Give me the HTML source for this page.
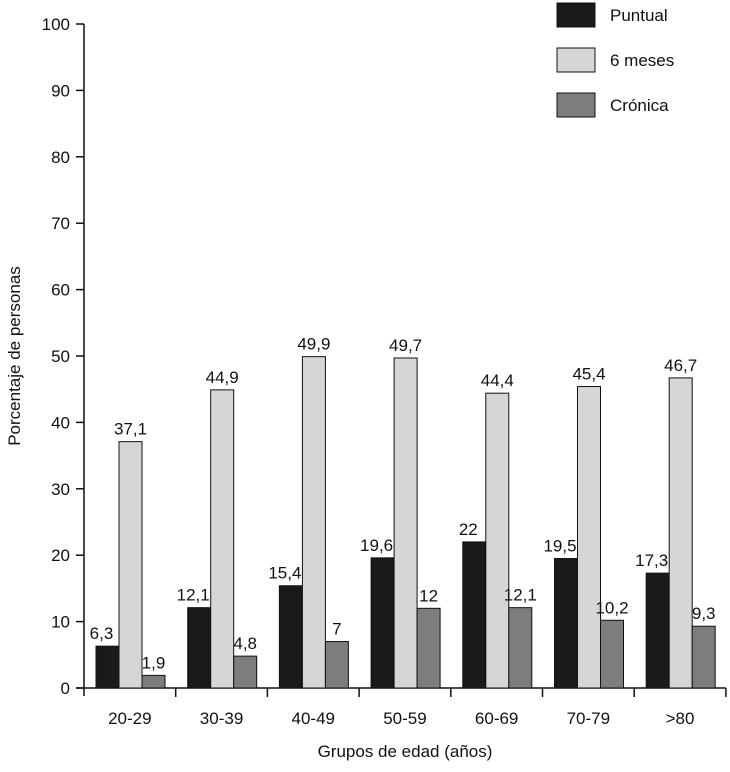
<!DOCTYPE html>
<html><head><meta charset="utf-8"><style>
body{margin:0;background:#fff}
svg text{font-family:"Liberation Sans",sans-serif;fill:#111}
</style></head><body>
<svg id="c" width="730" height="767" xmlns="http://www.w3.org/2000/svg"></svg>
<script>
const categories=["20-29","30-39","40-49","50-59","60-69","70-79",">80"];
const puntual=[6.3,12.1,15.4,19.6,22,19.5,17.3];
const seisMeses=[37.1,44.9,49.9,49.7,44.4,45.4,46.7];
const cronica=[1.9,4.8,7,12,12.1,10.2,9.3];
const puntualLabels=["6,3","12,1","15,4","19,6","22","19,5","17,3"];
const seisLabels=["37,1","44,9","49,9","49,7","44,4","45,4","46,7"];
const cronicaLabels=["1,9","4,8","7","12","12,1","10,2","9,3"];
const yTicks=[0,10,20,30,40,50,60,70,80,90,100];
const svg=document.getElementById('c');const NS="http://www.w3.org/2000/svg";
const X0=84,Y0=688,Y100=24,GW=91.7,BW=23,OFF=12,FS=17;
const y=v=>Y0-(Y0-Y100)*v/100;
const gx=i=>X0+GW*i;
function mk(t,a,txt){const e=document.createElementNS(NS,t);for(const k in a)e.setAttribute(k,a[k]);if(txt!==undefined)e.textContent=txt;svg.appendChild(e);return e;}
let e;
e=mk('line',{x1:X0,y1:Y100,x2:X0,y2:Y0+8,stroke:'#111','stroke-width':1.5});

e=mk('line',{x1:X0-8,y1:Y0,x2:gx(7),y2:Y0,stroke:'#111','stroke-width':1.5});

yTicks.forEach(t=>{
 e=mk('line',{x1:X0-8,y1:y(t),x2:X0,y2:y(t),stroke:'#111','stroke-width':1.5});
 
 e=mk('text',{x:X0-14,y:y(t)+6,'text-anchor':'end','font-size':FS},t);
 
});
for(let i=1;i<=7;i++){e=mk('line',{x1:gx(i),y1:Y0,x2:gx(i),y2:Y0+9,stroke:'#111','stroke-width':1.5});
 }
const series=[[puntual,puntualLabels,'#1a1a1a','puntual'],[seisMeses,seisLabels,'#d6d6d6','6-meses'],[cronica,cronicaLabels,'#7d7d7d','cronica']];
categories.forEach((c,i)=>{
 series.forEach((s,j)=>{
  const v=s[0][i],bx=gx(i)+OFF+j*BW;
  e=mk('rect',{x:bx,y:y(v),width:BW,height:Y0-y(v),fill:s[2],stroke:'#111','stroke-width':1});
  
  e=mk('text',{x:bx+BW/2-(j==0?6:0),y:y(v)-7,'text-anchor':'middle','font-size':FS},s[1][i]);
  
 });
 e=mk('text',{x:gx(i)+GW/2,y:724,'text-anchor':'middle','font-size':FS},c);
 
});
e=mk('text',{x:405,y:757,'text-anchor':'middle','font-size':FS},'Grupos de edad (años)');

e=mk('text',{x:0,y:0,'text-anchor':'middle','font-size':FS,transform:'translate(20,356) rotate(-90)'},'Porcentaje de personas');

[['Puntual','#1a1a1a',3],['6 meses','#d6d6d6',48],['Crónica','#7d7d7d',93]].forEach(l=>{
 e=mk('rect',{x:557,y:l[2],width:38,height:24,fill:l[1],stroke:'#111','stroke-width':1});
 
 e=mk('text',{x:610,y:l[2]+18,'font-size':FS},l[0]);
 
});
</script>
</body></html>
